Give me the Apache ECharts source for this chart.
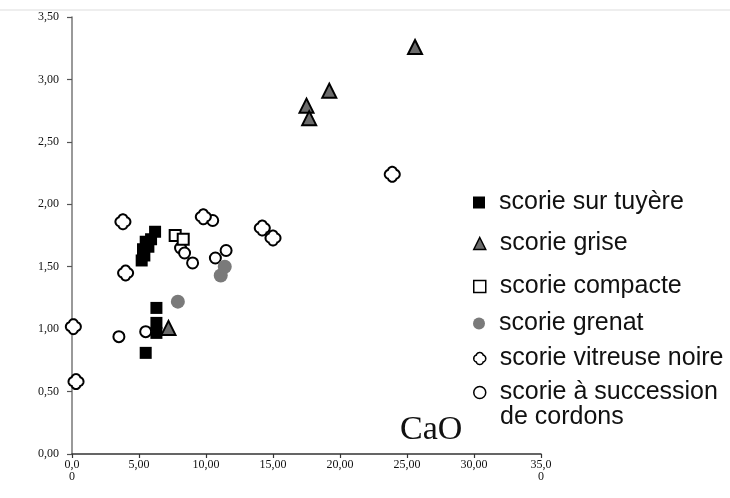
<!DOCTYPE html>
<html>
<head>
<meta charset="utf-8">
<script src="https://cdn.jsdelivr.net/npm/echarts@6/dist/echarts.min.js"></script>
<style>html,body{margin:0;padding:0;background:#fff}#c{width:730px;height:498px}</style>
</head>
<body>
<div id="c"></div>
<script>
// ---- data (CaO on x, y ratio) ----
const seriesNames = ['scorie sur tuyère', 'scorie grise', 'scorie compacte', 'scorie grenat', 'scorie vitreuse noire', 'scorie à succession de cordons'];

const tuyereX = [6.2, 5.9, 5.5, 5.7, 5.3, 5.4, 5.2, 6.3, 6.3, 6.3, 5.5];
const tuyereY = [1.78, 1.72, 1.70, 1.66, 1.64, 1.59, 1.55, 1.17, 1.05, 0.97, 0.81];

const griseX = [25.6, 19.2, 17.5, 17.7, 7.2];
const griseY = [3.26, 2.91, 2.79, 2.69, 1.01];

const compacteX = [7.7, 8.3];
const compacteY = [1.75, 1.72];

const grenatX = [7.9, 11.1, 11.4];
const grenatY = [1.22, 1.43, 1.50];

const vitreuseX = [0.1, 0.3, 3.8, 4.0, 9.8, 14.2, 15.0, 23.9];
const vitreuseY = [1.02, 0.58, 1.86, 1.45, 1.90, 1.81, 1.73, 2.24];

const cordonsX = [10.5, 3.5, 5.5, 8.1, 8.4, 9.0, 10.7, 11.5];
const cordonsY = [1.87, 0.94, 0.98, 1.65, 1.61, 1.53, 1.57, 1.63];

const xTicks = [0, 5, 10, 15, 20, 25, 30, 35];
const yTicks = [0, 0.5, 1, 1.5, 2, 2.5, 3, 3.5];

const pairs = (xs, ys) => xs.map((x, i) => [x, ys[i]]);

// quatrefoil-like outline (symbol shape only)
function cloudPath() {
  const c = 10, d = 4, r = 6;
  // half-angle of each lobe arc up to the notch between neighbouring lobes
  const t = (Math.SQRT2 * d + Math.sqrt(2 * d * d - 4 * (d * d - r * r))) / 2;
  const nx = t / Math.SQRT2 - d, ny = t / Math.SQRT2;
  const half = Math.atan2(ny, nx);
  const pts = [];
  for (let k = 0; k < 4; k++) {
    const th = k * Math.PI / 2;
    const cx = c + d * Math.cos(th), cy = c + d * Math.sin(th);
    for (let j = -10; j <= 10; j++) {
      const a = th + j * half / 10;
      pts.push([cx + r * Math.cos(a), cy + r * Math.sin(a)]);
    }
  }
  return 'path://M' + pts.map(p => p[0].toFixed(2) + ',' + p[1].toFixed(2)).join(' L') + ' Z';
}
const vitreusePath = cloudPath();

const chart = echarts.init(document.getElementById('c'), null, {renderer: 'canvas'});

const legendTops = [185, 226, 269, 306, 341, 375];
const legends = seriesNames.map((n, i) => ({
  data: [{name: n, itemStyle: {borderWidth: 1.5}}],
  left: 468,
  top: legendTops[i],
  orient: 'vertical',
  itemWidth: 12,
  itemHeight: 12,
  selectedMode: false,
  formatter: (name) => name === 'scorie à succession de cordons' ? 'scorie à succession' : name,
  textStyle: {fontFamily: 'Liberation Sans', fontSize: 25, color: '#111', padding: [0, 0, 0, 9]}
}));

const option = {
  animation: false,
  backgroundColor: '#fff',
  grid: {left: 72, right: 189, top: 17, bottom: 44, containLabel: false},
  xAxis: {
    type: 'value', min: 0, max: 35, interval: 5,
    axisLine: {show: true, lineStyle: {color: '#333', width: 1.5}},
    axisTick: {show: true, length: 4, lineStyle: {color: '#333', width: 1.2}},
    splitLine: {show: false},
    axisLabel: {
      margin: 5,
      fontFamily: 'Liberation Serif', fontSize: 12, color: '#111', lineHeight: 12,
      formatter: (v) => v === 0 ? '0,0\n0' : (v === 35 ? '35,0\n0' : v.toFixed(2).replace('.', ','))
    }
  },
  yAxis: {
    type: 'value', min: 0, max: 3.5, interval: 0.5,
    axisLine: {show: true, lineStyle: {color: '#777', width: 1.5}},
    axisTick: {show: true, length: 5, lineStyle: {color: '#555', width: 1.2}},
    splitLine: {show: false},
    axisLabel: {
      margin: 13,
      fontFamily: 'Liberation Serif', fontSize: 12, color: '#111',
      formatter: (v) => v.toFixed(2).replace('.', ',')
    }
  },
  legend: legends,
  graphic: [
    {type: 'line', shape: {x1: 0, y1: 10, x2: 730, y2: 10}, style: {stroke: '#dddddd', lineWidth: 1}, silent: true},
    {type: 'text', left: 500, top: 405, style: {text: 'de cordons', font: '25px "Liberation Sans"', fill: '#111'}},
    {type: 'text', x: 400, y: 430, style: {text: 'CaO', font: '34px "Liberation Serif"', fill: '#111', textVerticalAlign: 'middle'}}
  ],
  series: [
    {name: seriesNames[5], type: 'scatter', symbol: 'circle', symbolSize: 11,
     itemStyle: {color: '#fff', borderColor: '#000', borderWidth: 2, opacity: 1}, data: pairs(cordonsX, cordonsY)},
    {name: seriesNames[4], type: 'scatter', symbol: vitreusePath, symbolSize: 15,
     itemStyle: {color: '#fff', borderColor: '#000', borderWidth: 2, opacity: 1}, data: pairs(vitreuseX, vitreuseY)},
    {name: seriesNames[2], type: 'scatter', symbol: 'rect', symbolSize: 11,
     itemStyle: {color: '#fff', borderColor: '#000', borderWidth: 2, opacity: 1}, data: pairs(compacteX, compacteY)},
    {name: seriesNames[3], type: 'scatter', symbol: 'circle', symbolSize: 14,
     itemStyle: {color: '#7a7a7a', borderWidth: 0, opacity: 1}, data: pairs(grenatX, grenatY)},
    {name: seriesNames[0], type: 'scatter', symbol: 'rect', symbolSize: 12,
     itemStyle: {color: '#000', opacity: 1}, data: pairs(tuyereX, tuyereY)},
    {name: seriesNames[1], type: 'scatter', symbol: 'triangle', symbolSize: 14,
     itemStyle: {color: '#6b6b6b', borderColor: '#000', borderWidth: 2, opacity: 1}, data: pairs(griseX, griseY)}
  ]
};
chart.setOption(option);
</script>
</body>
</html>
